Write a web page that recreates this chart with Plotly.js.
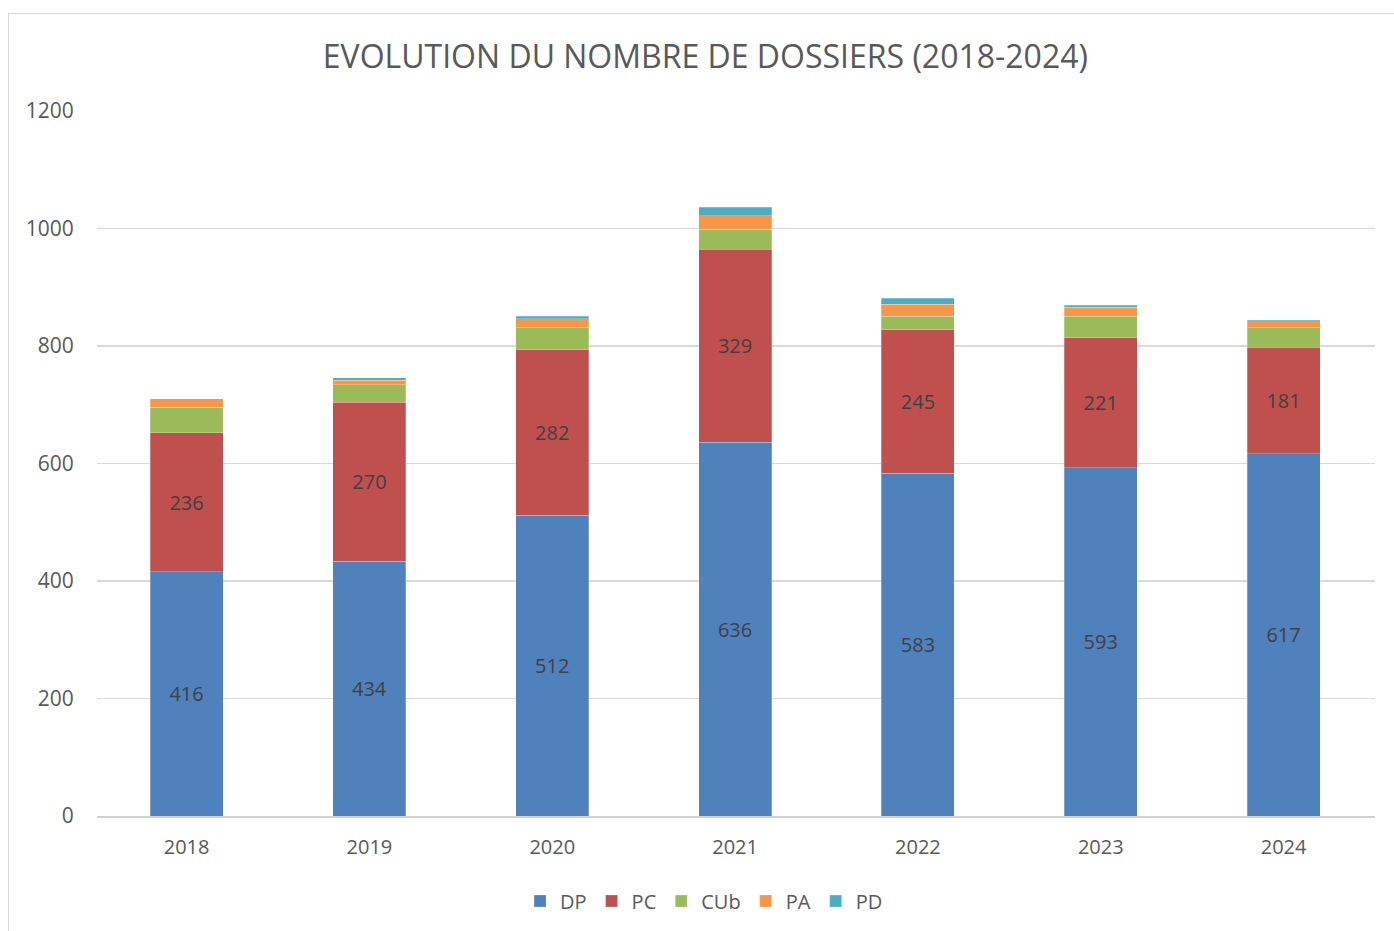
<!DOCTYPE html>
<html><head><meta charset="utf-8">
<script src="https://cdn.plot.ly/plotly-3.0.1.min.js"></script>
<style>
body{margin:0;background:#fff;}
#frame{position:absolute;left:8px;top:13px;width:1400px;height:930px;border:1px solid #d9d9d9;pointer-events:none;}
#chart{width:1394px;height:931px;}
</style></head>
<body>
<div id="chart"></div>
<div id="frame"></div>
<script>
const years = ['2018','2019','2020','2021','2022','2023','2024'];
const DP  = [416, 434, 512, 636, 583, 593, 617];
const PC  = [236, 270, 282, 329, 245, 221, 181];
const CUb = [44, 30, 37, 34, 23, 37, 33];
const PA  = [14, 8, 15, 23, 20, 15, 12];
const PD  = [0, 4, 5, 14, 10, 3, 2];
const yTicks = [0, 200, 400, 600, 800, 1000, 1200];

const FONT = 'Open Sans, Noto Sans, sans-serif';
function tr(name, vals, color, labels){
  const t = {
    type:'bar', name:name, x:years, y:vals,
    marker:{color:color, line:{color:'rgba(255,255,255,0.5)', width:0.5}},
    hoverinfo:'x+y+name'
  };
  if (labels){
    t.text = vals.map(String);
    t.textposition = 'inside';
    t.insidetextanchor = 'middle';
    t.textangle = 0;
    t.constraintext = 'none';
    t.textfont = {family:FONT, size:20, color:'#404040'};
  } else {
    t.textposition = 'none';
  }
  return t;
}
const data = [
  tr('DP', DP, '#4F81BD', true),
  tr('PC', PC, '#C0504D', true),
  tr('CUb', CUb, '#9BBB59', false),
  tr('PA', PA, '#F79646', false),
  tr('PD', PD, '#4BACC6', false)
];
const layout = {
  width:1394, height:931, autosize:false,
  margin:{l:97, r:19, t:111, b:114},
  paper_bgcolor:'#fff', plot_bgcolor:'#fff',
  barmode:'stack', bargap:0.6,
  font:{family:FONT, color:'#595959', size:20},
  title:{text:'EVOLUTION DU NOMBRE DE DOSSIERS (2018-2024)', font:{family:FONT, size:32, color:'#595959'},
         x:0.506, xref:'container', xanchor:'center', y:1-57/931, yref:'container', yanchor:'middle'},
  xaxis:{type:'category', range:[-0.49, 6.5], showgrid:false, showline:true, linecolor:'#d0d0d0', linewidth:1.5,
         ticks:'outside', ticklen:12, tickcolor:'rgba(0,0,0,0)', tickfont:{size:20, color:'#595959'}, fixedrange:true},
  yaxis:{range:[0,1200], tickvals:yTicks, ticktext:yTicks.map(String), showgrid:true, gridcolor:'#d9d9d9', gridwidth:1.5,
         zeroline:false, showline:false, ticks:'outside', ticklen:18, tickcolor:'rgba(0,0,0,0)', tickfont:{size:21, color:'#595959'}, fixedrange:true},
  legend:{orientation:'h', x:0.475, xanchor:'center', y:-0.119, yanchor:'middle',
          font:{size:20, color:'#595959'}, traceorder:'normal'},
  showlegend:true
};
Plotly.newPlot('chart', data, layout, {displayModeBar:false, staticPlot:true});
</script>
</body></html>
